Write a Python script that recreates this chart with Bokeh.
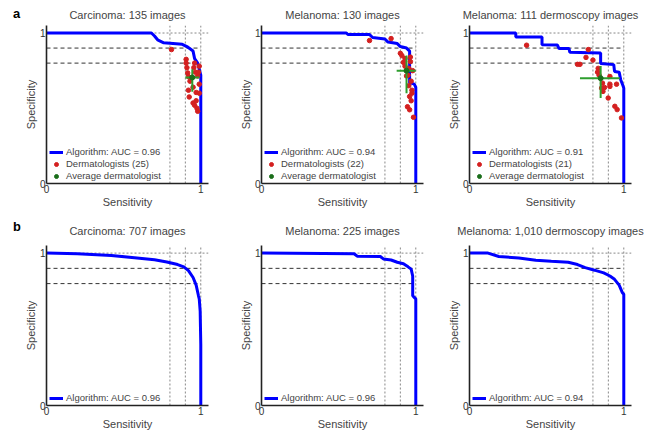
from bokeh.plotting import figure
from bokeh.layouts import row, column
from bokeh.models import Range1d, FixedTicker, Div
from bokeh.embed import file_html
from bokeh.resources import INLINE

FONT = "Liberation Sans"

# ---------------- data ----------------
titles = ["Carcinoma: 135 images", "Melanoma: 130 images", "Melanoma: 111 dermoscopy images",
          "Carcinoma: 707 images", "Melanoma: 225 images", "Melanoma: 1,010 dermoscopy images"]
auc = ["0.96", "0.94", "0.91", "0.96", "0.96", "0.94"]
n_derm = [25, 22, 21]
panel_letters = ["a", "b"]

# algorithm ROC curves (sensitivity, specificity)
a1_sens = [0, 0.68, 0.70, 0.72, 0.76, 0.88, 0.91, 0.93, 0.95, 0.96, 0.98, 0.99, 1.0, 1.0]
a1_spec = [1.0, 1.0, 0.98, 0.955, 0.935, 0.925, 0.91, 0.895, 0.88, 0.83, 0.80, 0.76, 0.72, 0.0]
a2_sens = [0, 0.55, 0.56, 0.70, 0.72, 0.80, 0.82, 0.88, 0.90, 0.94, 0.96, 0.96, 0.99, 1.0, 1.0]
a2_spec = [1.0, 1.0, 0.99, 0.99, 0.97, 0.96, 0.94, 0.93, 0.91, 0.90, 0.88, 0.67, 0.66, 0.64, 0.0]
a3_sens = [0, 0.30, 0.30, 0.47, 0.47, 0.57, 0.58, 0.645, 0.65, 0.85, 0.85, 0.935, 0.94, 0.97, 0.98, 0.995, 1.0, 1.0]
a3_spec = [1.0, 1.0, 0.974, 0.974, 0.922, 0.92, 0.897, 0.897, 0.872, 0.868, 0.798, 0.79, 0.745, 0.74, 0.69, 0.65, 0.634, 0.0]
b1_sens = [0, 0.20, 0.42, 0.57, 0.70, 0.78, 0.85, 0.89, 0.92, 0.95, 0.97, 0.985, 0.99, 0.996, 1.0, 1.0]
b1_spec = [1.0, 0.996, 0.985, 0.97, 0.957, 0.942, 0.925, 0.91, 0.885, 0.84, 0.79, 0.72, 0.70, 0.62, 0.40, 0.0]
b2_sens = [0, 0.40, 0.60, 0.62, 0.77, 0.79, 0.84, 0.88, 0.92, 0.95, 0.97, 0.98, 0.98, 0.99, 1.0, 1.0]
b2_spec = [1.0, 0.998, 0.996, 0.98, 0.978, 0.962, 0.955, 0.94, 0.93, 0.91, 0.895, 0.85, 0.72, 0.71, 0.70, 0.0]
b3_sens = [0, 0.12, 0.19, 0.32, 0.43, 0.53, 0.64, 0.70, 0.75, 0.81, 0.87, 0.91, 0.94, 0.97, 0.99, 1.0, 1.0]
b3_spec = [1.0, 1.0, 0.978, 0.968, 0.953, 0.946, 0.94, 0.925, 0.905, 0.888, 0.87, 0.85, 0.828, 0.79, 0.742, 0.73, 0.0]

# individual dermatologists
d1_sens = [0.81, 0.905, 0.905, 0.91, 0.915, 0.92, 0.955, 0.965, 0.98, 0.99, 0.925, 0.95, 0.96, 0.975,
           0.98, 0.93, 0.94, 0.97, 0.985, 0.96, 0.99, 0.95, 0.92, 0.97, 0.99]
d1_spec = [0.89, 0.825, 0.80, 0.77, 0.735, 0.71, 0.77, 0.74, 0.715, 0.66, 0.575, 0.535, 0.52, 0.50,
           0.48, 0.68, 0.70, 0.605, 0.74, 0.80, 0.78, 0.64, 0.62, 0.55, 0.60]
d2_sens = [0.70, 0.84, 0.90, 0.93, 0.92, 0.965, 0.93, 0.955, 0.97, 0.94, 0.975, 0.96, 0.97, 0.946,
           0.96, 0.985, 0.95, 0.965, 0.98, 0.91, 0.955, 0.975]
d2_spec = [0.95, 0.963, 0.865, 0.83, 0.805, 0.84, 0.78, 0.765, 0.68, 0.715, 0.60, 0.578, 0.55, 0.51,
           0.49, 0.44, 0.72, 0.81, 0.75, 0.85, 0.65, 0.62]
d3_sens = [0.37, 0.77, 0.755, 0.80, 0.70, 0.716, 0.834, 0.91, 0.862, 0.856, 0.91, 0.91, 0.953, 0.899,
           0.942, 0.957, 0.985, 0.875, 0.83, 0.84, 0.865]
d3_spec = [0.919, 0.89, 0.838, 0.82, 0.792, 0.792, 0.765, 0.711, 0.667, 0.634, 0.66, 0.645, 0.66, 0.568,
           0.513, 0.491, 0.436, 0.638, 0.74, 0.72, 0.612]

# average dermatologist: centre and ranges
avg_sens = [0.945, 0.94, 0.85]
avg_spec = [0.705, 0.75, 0.70]
avg_sens_lo = [0.90, 0.876, 0.716]
avg_sens_hi = [0.99, 1.0, 0.974]
avg_spec_lo = [0.61, 0.60, 0.568]
avg_spec_hi = [0.76, 0.85, 0.781]

# reference operating lines
ref_spec = [0.9, 0.8]
ref_sens = [0.8, 0.9, 1.0]

curves = [(a1_sens, a1_spec), (a2_sens, a2_spec), (a3_sens, a3_spec),
          (b1_sens, b1_spec), (b2_sens, b2_spec), (b3_sens, b3_spec)]
derms = [(d1_sens, d1_spec), (d2_sens, d2_spec), (d3_sens, d3_spec)]

FW = 162
BLUE = "#0000ff"
RED = "#d42020"
GREEN = "#2e9e2e"


def make_panel(i, left_b, right_b, top_b, frame_h, bottom_b, title_standoff):
    p = figure(frame_width=FW, frame_height=frame_h,
               x_range=Range1d(0, 1.05), y_range=Range1d(0, 1.05),
               output_backend="svg", toolbar_location=None,
               min_border_left=left_b, min_border_right=right_b,
               min_border_top=top_b, min_border_bottom=bottom_b,
               x_axis_label="Sensitivity", y_axis_label="Specificity",
               background_fill_color="white", border_fill_color="white")
    p.outline_line_color = None
    p.grid.visible = False
    p.title.text = titles[i]
    p.title.align = "center"
    p.title.text_font = FONT
    p.title.text_font_size = "11px"
    p.title.text_font_style = "normal"
    p.title.text_color = "#444444"
    p.title.standoff = title_standoff
    for ax in (p.xaxis[0], p.yaxis[0]):
        ax.ticker = FixedTicker(ticks=[0, 1])
        ax.major_tick_line_color = None
        ax.minor_tick_line_color = None
        ax.major_tick_out = 0
        ax.major_tick_in = 0
        ax.minor_tick_out = 0
        ax.axis_line_color = "#222222"
        ax.axis_line_width = 1.6
        ax.major_label_text_font = FONT
        ax.major_label_text_font_size = "10px"
        ax.major_label_text_color = "#333333"
        ax.major_label_standoff = 1
        ax.axis_label_text_font = FONT
        ax.axis_label_text_font_size = "11px"
        ax.axis_label_text_font_style = "normal"
        ax.axis_label_text_color = "#444444"
        ax.axis_label_standoff = 0

    # reference lines
    p.segment(x0=0, x1=1.05, y0=1.0, y1=1.0, line_color="#888888", line_dash="2 2", line_width=1)
    for s in ref_spec:
        p.segment(x0=0, x1=1.0, y0=s, y1=s, line_color="#333333", line_dash="4 3", line_width=1)
    for s in ref_sens:
        p.segment(x0=s, x1=s, y0=0, y1=1.05, line_color="#888888", line_dash="2 2", line_width=1)

    xs, ys = curves[i]
    p.line(xs, ys, line_color=BLUE, line_width=3,
           legend_label="Algorithm: AUC = " + auc[i])
    if i < 3:
        dx, dy = derms[i]
        p.scatter(dx, dy, size=4.5, color=RED, legend_label="Dermatologists (%d)" % n_derm[i])
        p.segment(x0=avg_sens_lo[i], x1=avg_sens_hi[i], y0=avg_spec[i], y1=avg_spec[i],
                  line_color=GREEN, line_width=2)
        p.segment(x0=avg_sens[i], x1=avg_sens[i], y0=avg_spec_lo[i], y1=avg_spec_hi[i],
                  line_color=GREEN, line_width=2)
        p.scatter([avg_sens[i]], [avg_spec[i]], size=5, color="#1a6e1a",
                  legend_label="Average dermatologist")

    lg = p.legend[0]
    lg.location = (3, 2)
    lg.border_line_color = None
    lg.background_fill_alpha = 0
    lg.padding = 2
    lg.margin = 0
    lg.spacing = 1
    lg.label_height = 10
    lg.glyph_height = 10
    lg.glyph_width = 14
    lg.label_standoff = 3
    lg.label_text_font = FONT
    lg.label_text_font_size = "9.5px"
    lg.label_text_color = "#444444"
    return p


def letter_div(letter, pad_top):
    html = ('<div style="padding:%dpx 0 0 13px;font-family:\'Liberation Sans\',Arial,sans-serif;'
            'font-size:13px;font-weight:bold;color:#000;line-height:15px;">%s</div>' % (pad_top, letter))
    return Div(text=html, width=20, height=30, margin=0)


left_borders = [26, 38, 38]
right_borders = [15, 8, 14]
panels = []
for i in range(6):
    col = i % 3
    if i < 3:
        p = make_panel(i, left_borders[col], right_borders[col], 25, 158, 26, 10)
    else:
        p = make_panel(i, left_borders[col], right_borders[col], 35, 160, 26, 17)
    panels.append(p)

top_row = row(letter_div(panel_letters[0], 6), *panels[:3], spacing=0)
bottom_row = row(letter_div(panel_letters[1], 9), *panels[3:], spacing=0)
layout = column(top_row, bottom_row, spacing=0)

open("out.html", "w").write(file_html(layout, INLINE))
